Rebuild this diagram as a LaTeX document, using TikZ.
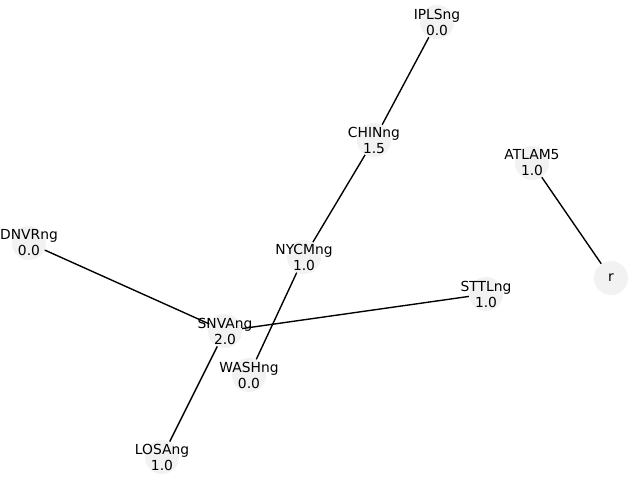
\documentclass[tikz,border=0pt]{standalone}
\usepackage{fontspec}
\setmainfont{DejaVu Sans}
\usetikzlibrary{positioning}
\definecolor{nodegray}{HTML}{F2F2F2}

\begin{document}
\begin{tikzpicture}[x=0.72bp, y=-0.72bp,
    vertex/.style={circle, fill=nodegray, draw=none, inner sep=0pt, minimum size=24.5bp},
    lbl/.style={align=center, inner sep=0pt, font=\fontsize{10}{11.6}\selectfont},
    link/.style={draw=black, line width=1pt}]
    \useasboundingbox (0,0) rectangle (640,480);
    % vertices
    \node [vertex] (IPLS) at (437,22)  {};
    \node [vertex] (CHIN) at (374,140) {};
    \node [vertex] (ATLA) at (532,163) {};
    \node [vertex] (R)    at (611,278) {};
    \node [vertex] (DNVR) at (29,243)  {};
    \node [vertex] (NYCM) at (304,257) {};
    \node [vertex] (STTL) at (486,294) {};
    \node [vertex] (SNVA) at (225,331) {};
    \node [vertex] (WASH) at (249,375) {};
    \node [vertex] (LOSA) at (162,457) {};
    \path[link] (IPLS) edge (CHIN)
                (CHIN) edge (NYCM)
                (NYCM) edge (WASH)
                (ATLA) edge (R)
                (DNVR) edge (SNVA)
                (SNVA) edge (STTL)
                (SNVA) edge (LOSA);
    % labels
    \node [lbl] at (IPLS) {IPLSng\\0.0};
    \node [lbl] at (CHIN) {CHINng\\1.5};
    \node [lbl] at (ATLA) {ATLAM5\\1.0};
    \node [lbl] at (R)    {r};
    \node [lbl] at (DNVR) {DNVRng\\0.0};
    \node [lbl] at (NYCM) {NYCMng\\1.0};
    \node [lbl] at (STTL) {STTLng\\1.0};
    \node [lbl] at (SNVA) {SNVAng\\2.0};
    \node [lbl] at (WASH) {WASHng\\0.0};
    \node [lbl] at (LOSA) {LOSAng\\1.0};
\end{tikzpicture}
\end{document}
